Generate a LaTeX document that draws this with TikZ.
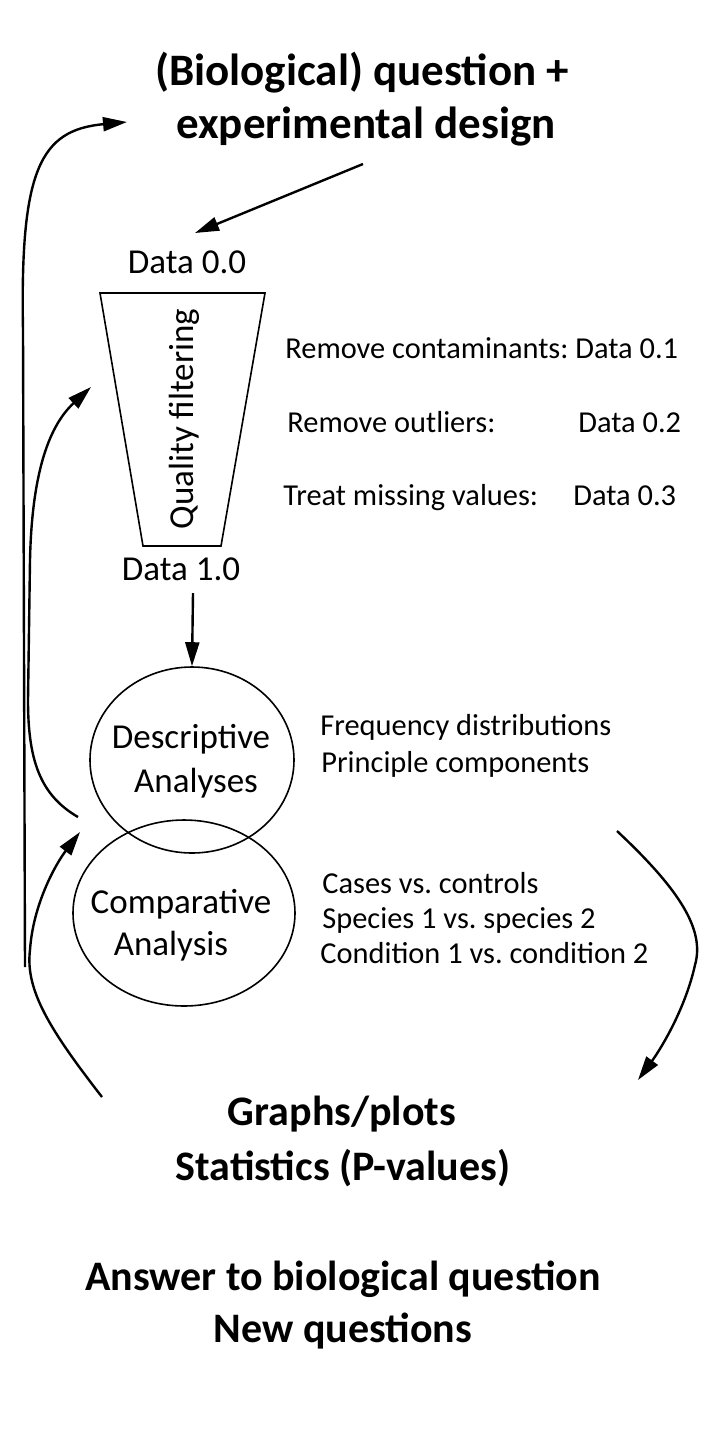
\documentclass[tikz,border=0pt]{standalone}
\usepackage{fontspec}
\setmainfont{Carlito}
\usetikzlibrary{arrows.meta,shapes.geometric}
\frenchspacing
\begin{document}
\begin{tikzpicture}[x=0.5pt,y=-0.5pt,
  lbl/.style={inner sep=0pt, anchor=base west, font=\fontsize{15.2}{18}\selectfont},
  big/.style={inner sep=0pt, anchor=base, font=\fontsize{21}{26}\bfseries\selectfont},
  mid/.style={inner sep=0pt, anchor=base, font=\fontsize{17.5}{21}\selectfont},
  conn/.style={line width=1.2pt, -{Triangle[length=12pt,width=7pt]}},
  outl/.style={draw, line width=0.8pt},
  oval/.style={outl, ellipse, inner sep=0pt}
]
\useasboundingbox (0,0) rectangle (720,1437);

% title
\node[big, font=\fontsize{22.5}{27}\bfseries\selectfont] (t1) at (362,85) {(Biological) question +};
\node[big, font=\fontsize{22.5}{27}\bfseries\selectfont] (t2) at (366,138) {experimental design};
\coordinate (t2s) at (363,164);
\coordinate (d0n) at (195,233);

% funnel
\node[mid] (d00) at (187,273) {Data 0.0};
\draw[outl] (100,293) coordinate (f1) -- (265,293) coordinate (f2) -- (221,546) coordinate (f3) -- (143,546) coordinate (f4) -- cycle;
\node[inner sep=0pt, rotate=90, font=\fontsize{17.5}{21}\selectfont] (qf) at (184,419) {Quality filtering};
\node[mid] (d10) at (181,580) {Data 1.0};
\coordinate (a1s) at (193,593);

% right side texts of filtering
\node[lbl] (r1a) at (285,358) {Remove contaminants:};
\node[lbl] (r1b) at (575,358) {Data 0.1};
\node[lbl] (r2a) at (287,432) {Remove outliers:};
\node[lbl] (r2b) at (578,432) {Data 0.2};
\node[lbl] (r3a) at (283,505) {Treat missing values:};
\node[lbl] (r3b) at (573,505) {Data 0.3};

% ellipses
\node[oval, minimum width=102pt, minimum height=93pt] (desc) at (192,760) {};
\node[oval, minimum width=111pt, minimum height=93pt] (comp) at (184,913) {};
\node[mid] (desc1) at (191,748) {Descriptive};
\node[mid] (desc2) at (196,792) {Analyses};
\node[mid] (comp1) at (181,913) {Comparative};
\node[mid] (comp2) at (171,955) {Analysis};

% right texts of analyses
\node[lbl] (fd) at (320,735) {Frequency distributions};
\node[lbl] (pc) at (321,772) {Principle components};
\node[lbl] (cc) at (322,893) {Cases vs. controls};
\node[lbl] (ss) at (322,928) {Species 1 vs. species 2};
\node[lbl] (co) at (320,963) {Condition 1 vs. condition 2};

% bottom texts
\node[big] (g1) at (342,1125) {Graphs/plots};
\node[big] (g2) at (343,1180) {Statistics (P-values)};
\node[big] (g3) at (343,1290) {Answer to biological question};
\node[big] (g4) at (343,1342) {New questions};

% connector end points
\coordinate (l1s) at (25,967);
\coordinate (l1e) at (127,122);
\coordinate (l2s) at (78,817);
\coordinate (l2e) at (91,387);
\coordinate (l3s) at (102,1097);
\coordinate (l3e) at (80,832);
\coordinate (rs) at (617,831);
\coordinate (re) at (638,1080);

% connectors
\draw[conn] (t2s) -- (d0n);
\draw[conn] (a1s) -- (desc.north);
\draw[conn] (l1s) -- (23,330) .. controls (20,170) and (40,130) .. (l1e);
\draw[conn] (l2s) .. controls (40,795) and (28,760) .. (28,700) -- (30,560) .. controls (32,470) and (50,425) .. (l2e);
\draw[conn] (l3s) .. controls (50,1030) and (25,990) .. (30,950) .. controls (33,905) and (55,865) .. (l3e);
\draw[conn] (rs) .. controls (680,890) and (705,930) .. (695,965) .. controls (685,1010) and (660,1050) .. (re);
\end{tikzpicture}
\end{document}
